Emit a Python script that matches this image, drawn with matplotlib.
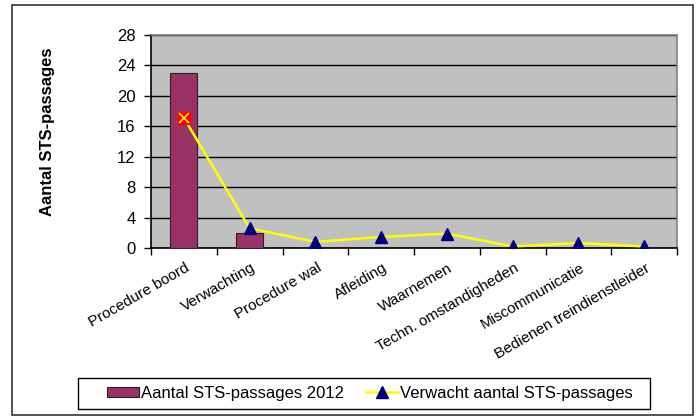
import numpy as np
import matplotlib
matplotlib.use("Agg")
import matplotlib.pyplot as plt
import matplotlib.transforms as mtransforms
from matplotlib.patches import Rectangle, Patch
from matplotlib.lines import Line2D

plt.rcParams['font.family'] = ['Liberation Sans', 'DejaVu Sans']

# data
categories = ["Procedure boord", "Verwachting", "Procedure wal", "Afleiding",
              "Waarnemen", "Techn. omstandigheden", "Miscommunicatie",
              "Bedienen treindienstleider"]
passages_2012 = [23, 2, 0, 0, 0, 0, 0, 0]
expected = [17.1, 2.6, 0.8, 1.45, 1.9, 0.2, 0.65, 0.2]
y_ticks = [0, 4, 8, 12, 16, 20, 24, 28]

BAR_COLOR = "#993366"
LINE_COLOR = "#FFFF00"
MARKER_COLOR = "#000080"

fig = plt.figure(figsize=(6.99, 4.16), dpi=100)
ax = fig.add_axes([151 / 699, 1 - 248 / 416, 526 / 699, 213 / 416])
ax.set_facecolor("#C0C0C0")

x = np.arange(len(categories))
ax.bar(x, passages_2012, width=0.41, color=BAR_COLOR, edgecolor="#222222",
       linewidth=0.8, zorder=3)
ax.plot(x, expected, color=LINE_COLOR, linewidth=1.8, marker="^",
        markersize=8, markerfacecolor=MARKER_COLOR, markeredgecolor=MARKER_COLOR,
        markevery=list(range(1, len(x))), zorder=4)
# first point has its own marker in the original
ax.plot(x[0], expected[0], marker="s", markersize=8, color="#FF0000",
        linestyle="none", zorder=5)
ax.plot(x[0], expected[0], marker="x", markersize=7.5, markeredgewidth=1.1,
        color=LINE_COLOR, linestyle="none", zorder=6)

ax.set_xlim(-0.5, len(x) - 0.5)
ax.set_ylim(0, 28)
ax.set_yticks(y_ticks)
ax.yaxis.grid(True, color="black", linewidth=1)
ax.set_axisbelow(True)
ax.tick_params(axis="y", labelsize=12, length=5, pad=6, direction="out", width=1)

# ticks between categories, labels at the centre
ax.set_xticks(np.arange(len(x) + 1) - 0.5)
ax.set_xticklabels([])
ax.tick_params(axis="x", length=5, direction="out", width=1)
label_trans = mtransforms.blended_transform_factory(ax.transData, ax.transAxes)
for i, name in enumerate(categories):
    ax.text(i + 0.02, -0.06, name, rotation=30, ha="right", va="top",
            rotation_mode="anchor", fontsize=11, transform=label_trans)

for side in ["left", "bottom"]:
    ax.spines[side].set_color("black")
    ax.spines[side].set_linewidth(1.2)
for side in ["top", "right"]:
    ax.spines[side].set_color("#808080")
    ax.spines[side].set_linewidth(1.2)

fig.text(48 / 699, 1 - 132 / 416, "Aantal STS-passages", rotation=90,
         ha="center", va="center", fontsize=12, fontweight="bold")

handles = [Patch(facecolor=BAR_COLOR, edgecolor="#222222", linewidth=0.8),
           Line2D([], [], color=LINE_COLOR, linewidth=1.8, marker="^",
                  markersize=8, markerfacecolor=MARKER_COLOR,
                  markeredgecolor=MARKER_COLOR)]
labels = ["Aantal STS-passages 2012", "Verwacht aantal STS-passages"]
leg = fig.legend(handles, labels, loc="center",
                 bbox_to_anchor=(370 / 699, 1 - 393.5 / 416),
                 ncol=2, frameon=False, fontsize=12,
                 handlelength=1.9, handleheight=0.6,
                 handletextpad=0.15, columnspacing=1.3, borderpad=0.3,
                 borderaxespad=0)

# legend box as drawn in the original (wider on the left)
fig.patches.append(Rectangle((78 / 699, 1 - 409 / 416), 572 / 699, 31 / 416,
                             transform=fig.transFigure, fill=False,
                             edgecolor="black", linewidth=1.0))

# outer chart frame
fig.patches.append(Rectangle((12 / 699, 1 - 415 / 416), 681 / 699, 410 / 416,
                             transform=fig.transFigure, fill=False,
                             edgecolor="#333333", linewidth=1.2))

fig.savefig("out.png", dpi=100)
